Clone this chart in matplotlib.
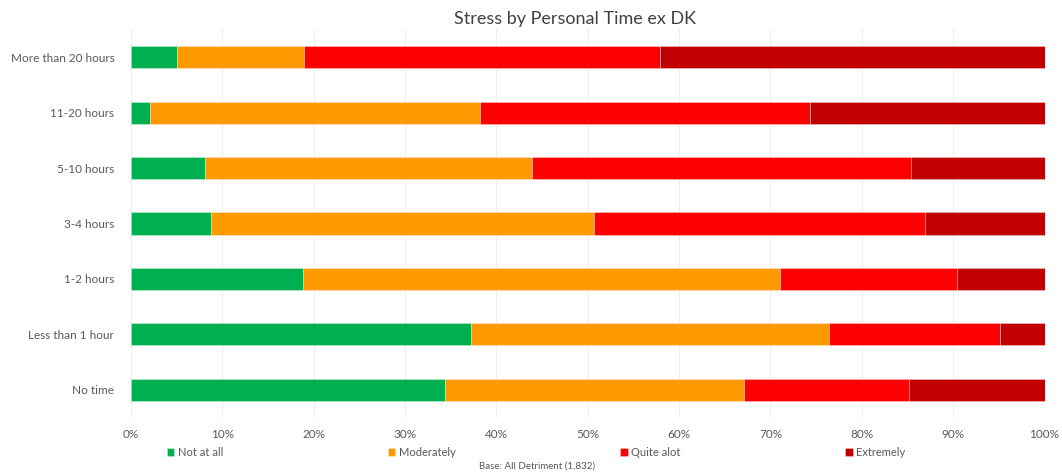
import matplotlib
matplotlib.use("Agg")
import matplotlib.pyplot as plt
import numpy as np

plt.rcParams['font.family'] = ['Lato', 'DejaVu Sans']

categories = ["More than 20 hours", "11-20 hours", "5-10 hours", "3-4 hours",
              "1-2 hours", "Less than 1 hour", "No time"]
series_names = ["Not at all", "Moderately", "Quite alot", "Extremely"]
not_at_all = [5.0, 2.1, 8.1, 8.8, 18.8, 37.2, 34.4]
moderately = [13.9, 36.1, 35.8, 41.9, 52.2, 39.2, 32.7]
quite_alot = [39.0, 36.1, 41.5, 36.2, 19.4, 18.7, 18.1]
extremely = [42.1, 25.7, 14.6, 13.1, 9.6, 4.9, 14.8]
colors = ["#00B050", "#FF9900", "#FF0000", "#C00000"]
xticks = np.arange(0, 101, 10)

text_color = "#595959"

fig = plt.figure(figsize=(10.62, 4.75), dpi=100)
ax = fig.add_axes([131 / 1062, 1 - 417.5 / 475, (1044.5 - 131) / 1062, (417.5 - 29.5) / 475])

y = np.arange(len(categories))
left = np.zeros(len(categories))
handles = []
for name, vals, col in zip(series_names, [not_at_all, moderately, quite_alot, extremely], colors):
    vals = np.array(vals)
    h = ax.barh(y, vals, left=left, height=0.4, color=col, label=name,
                edgecolor=(1, 1, 1, 0.35), linewidth=0.6, zorder=3)
    handles.append(h)
    left += vals

ax.set_ylim(len(categories) - 0.5, -0.5)
ax.set_xlim(0, 100)
ax.set_yticks(y)
ax.set_yticklabels(categories, fontsize=8.5, color=text_color)
ax.set_xticks(xticks)
ax.set_xticklabels([f"{t}%" for t in xticks], fontsize=8.5, color=text_color)
ax.tick_params(axis='both', length=0, pad=8)
ax.tick_params(axis='y', pad=12)
ax.grid(axis='x', color="#EFEFEF", linewidth=0.8, zorder=0)
for s in ax.spines.values():
    s.set_visible(False)

fig.text(575 / 1062, 1 - 19 / 475, "Stress by Personal Time ex DK", ha='center', va='center',
         fontsize=13, color="#404040")

leg = fig.legend(handles=handles, labels=series_names, loc='center',
                 bbox_to_anchor=(536 / 1062, 1 - 452 / 475), ncol=4, frameon=False,
                 fontsize=8, handlelength=0.7, handleheight=0.7, handletextpad=0.3,
                 columnspacing=14.8)
for t in leg.get_texts():
    t.set_color(text_color)

fig.text(537 / 1062, 1 - 466 / 475, "Base: All Detriment (1,832)", ha='center', va='center',
         fontsize=7, color=text_color)

fig.savefig("out.png", dpi=100, facecolor="white")
